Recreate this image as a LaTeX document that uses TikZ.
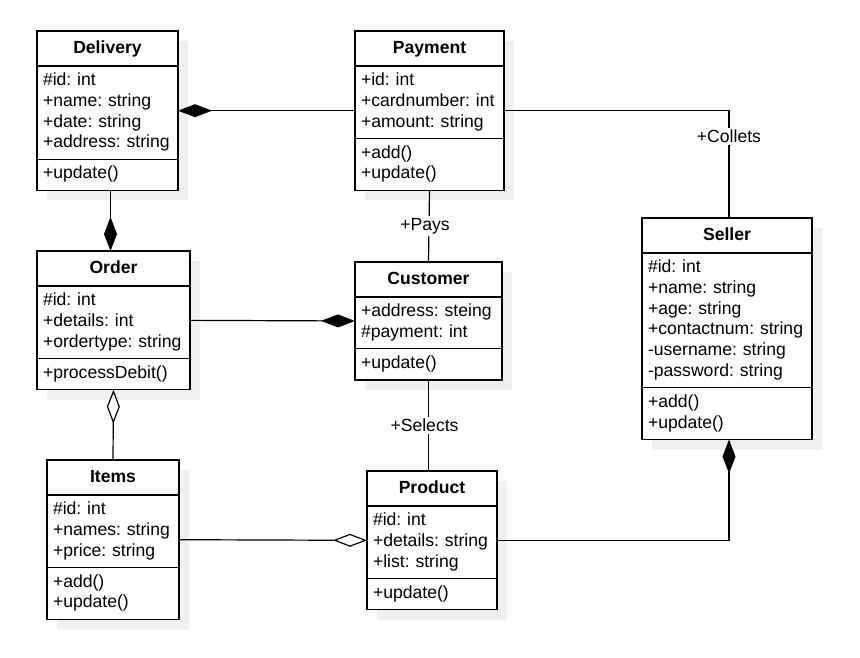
\documentclass[tikz,border=0pt]{standalone}
\usepackage{fontspec}
\setmainfont{Liberation Sans}
\usetikzlibrary{arrows.meta,positioning,shapes.multipart,shadows}

\newcommand{\classtitle}[1]{\makebox[\linewidth]{\textbf{#1}\rule[-6.9pt]{0pt}{24.4pt}}}

\begin{document}
\begin{tikzpicture}[
    x=1pt, y=-1pt,
    font=\fontsize{17.6}{20.7}\selectfont\frenchspacing,
    classbox/.style={draw, line width=1.3pt, fill=white, rectangle split, rectangle split parts=3,
        align=left, anchor=north west, inner xsep=6pt, inner ysep=4.6pt, outer sep=0pt, text width=#1,
        drop shadow={shadow xshift=10pt, shadow yshift=-10pt, fill=black!6, opacity=1}},
    assocline/.style={line width=1.2pt},
    compline/.style={assocline, -{Diamond[length=34pt, width=13pt]}},
    aggline/.style={assocline, -{Diamond[open, length=34pt, width=13pt]}},
    rolelabel/.style={fill=white, inner xsep=1pt, inner ysep=2pt}
]
    \useasboundingbox (0,0) rectangle (860,658);

    % classes
    \node[classbox=129pt] (delivery) at (37,31) {\classtitle{Delivery}
        \nodepart{two}\strut\#id: int\\+name: string\\+date: string\\+address: string\strut
        \nodepart{three}\strut+update()};
    \node[classbox=137pt] (payment) at (355,31) {\classtitle{Payment}
        \nodepart{two}\strut+id: int\\+cardnumber: int\\+amount: string\strut
        \nodepart{three}\strut+add()\\+update()\strut};
    \node[classbox=158pt] (seller) at (642,218) {\classtitle{Seller}
        \nodepart{two}\strut\#id: int\\+name: string\\+age: string\\+contactnum: string\\-username: string\\-password: string\strut
        \nodepart{three}\strut+add()\\+update()\strut};
    \node[classbox=141pt] (order) at (37,251) {\classtitle{Order}
        \nodepart{two}\strut\#id: int\\+details: int\\+ordertype: string\strut
        \nodepart{three}\strut+processDebit()};
    \node[classbox=135pt] (customer) at (355,262) {\classtitle{Customer}
        \nodepart{two}\strut+address: steing\\\#payment: int\strut
        \nodepart{three}\strut+update()};
    \node[classbox=120pt] (items) at (47,460) {\classtitle{Items}
        \nodepart{two}\strut\#id: int\\+names: string\\+price: string\strut
        \nodepart{three}\strut+add()\\+update()\strut};
    \node[classbox=118pt] (product) at (367,471) {\classtitle{Product}
        \nodepart{two}\strut\#id: int\\+details: string\\+list: string\strut
        \nodepart{three}\strut+update()};

    \coordinate (sellertop) at ([xshift=2pt]seller.north);
    \coordinate (sellerbot) at ([xshift=2pt]seller.south);

    % relations
    \draw[compline] (payment.west) -- (delivery.east);
    \draw[assocline] (payment.east) -- (sellertop |- payment.east) -- node[rolelabel, pos=0.24] {+Collets} (sellertop);
    \draw[compline] ([xshift=3pt]delivery.south) -- ([xshift=-3pt]order.north);
    \draw[assocline] (payment.south) -- node[rolelabel, xshift=-4pt] {+Pays} (customer.north);
    \draw[compline] (order.east) -- (customer.west);
    \draw[assocline] (customer.south) -- node[rolelabel, xshift=-4pt] {+Selects} (customer.south |- product.north);
    \draw[aggline] (items.north) -- (order.south);
    \draw[aggline] (items.east) -- (product.west);
    \draw[compline] (product.east) -- (sellerbot |- product.east) -- (sellerbot);
\end{tikzpicture}
\end{document}
